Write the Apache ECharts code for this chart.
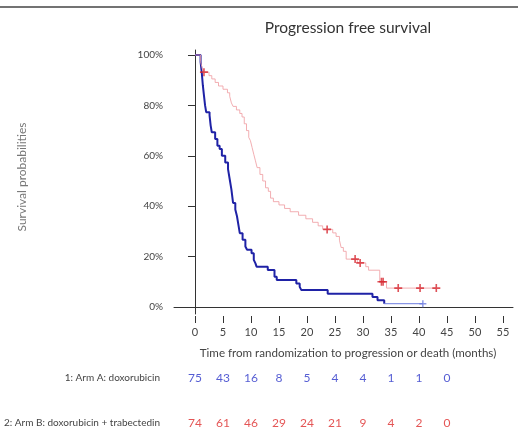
<!DOCTYPE html>
<html>
<head>
<meta charset="utf-8">
<script src="https://cdn.jsdelivr.net/npm/echarts@6/dist/echarts.min.js"></script>
<style>
  html, body { margin: 0; padding: 0; background: #ffffff; }
  #chart { width: 518px; height: 438px; }
</style>
</head>
<body>
<div id="chart"></div>
<script>
// Arm labels
const armAName = '1: Arm A: doxorubicin';
const armBName = '2: Arm B: doxorubicin + trabectedin';

// Arm A: Kaplan–Meier event times (months) and survival after each event
const armATimes = [0, 1.0, 1.2, 1.4, 1.6, 1.8, 2.0, 2.6, 2.8, 3.0, 3.6, 4.0, 4.4, 4.8, 5.4, 5.9, 6.2, 6.5, 6.8, 7.2, 7.5, 7.8, 8.0, 8.5, 9.0, 9.3, 10.1, 10.5, 10.8, 11.0, 13.0, 14.2, 14.6, 18.1, 18.7, 19.0, 23.7, 31.7, 32.6, 33.8];
const armASurv  = [1.0, 0.973, 0.933, 0.88, 0.84, 0.80, 0.773, 0.76, 0.72, 0.693, 0.667, 0.64, 0.627, 0.60, 0.573, 0.547, 0.507, 0.467, 0.413, 0.387, 0.36, 0.32, 0.293, 0.267, 0.24, 0.227, 0.213, 0.187, 0.173, 0.16, 0.147, 0.12, 0.107, 0.093, 0.08, 0.067, 0.053, 0.04, 0.027, 0.013];
const armACensorTimes = [40.7];
const armACensorSurv  = [0.013];

// Arm B: Kaplan–Meier event times (months) and survival after each event
const armBTimes = [0, 1.0, 1.3, 1.5, 2.5, 3.0, 3.6, 4.2, 5.0, 5.8, 6.2, 6.5, 6.8, 7.4, 8.0, 8.4, 8.8, 9.2, 9.6, 9.9, 10.2, 10.5, 10.8, 11.1, 11.6, 12.1, 12.6, 13.1, 13.5, 14.0, 15.0, 16.0, 17.0, 18.5, 19.8, 21.0, 22.0, 22.8, 24.6, 25.2, 25.8, 26.1, 26.5, 27.0, 29.0, 30.5, 31.0, 33.0, 34.2];
const armBSurv  = [1.0, 0.973, 0.946, 0.932, 0.918, 0.905, 0.891, 0.877, 0.864, 0.85, 0.836, 0.81, 0.796, 0.782, 0.768, 0.754, 0.727, 0.70, 0.673, 0.66, 0.633, 0.606, 0.58, 0.553, 0.526, 0.50, 0.473, 0.459, 0.432, 0.418, 0.405, 0.391, 0.378, 0.364, 0.35, 0.336, 0.322, 0.308, 0.294, 0.28, 0.265, 0.236, 0.221, 0.19, 0.175, 0.16, 0.146, 0.10, 0.075];
const armBCensorTimes = [1.6, 23.6, 28.6, 29.5, 33.3, 33.6, 36.3, 40.2, 43.1];
const armBCensorSurv  = [0.932, 0.308, 0.19, 0.175, 0.10, 0.10, 0.075, 0.075, 0.075];

// Numbers at risk
const riskTimes = [0, 5, 10, 15, 20, 25, 30, 35, 40, 45];
const riskA = [75, 43, 16, 8, 5, 4, 4, 1, 1, 0];
const riskB = [74, 61, 46, 29, 24, 21, 9, 4, 2, 0];

// Axis ticks
const xTicks = [0, 5, 10, 15, 20, 25, 30, 35, 40, 45, 50, 55];
const yTicks = [0, 0.2, 0.4, 0.6, 0.8, 1.0];

const FONT = 'Lato, "Open Sans", sans-serif';
const X_MIN = -3.75, X_MAX = 56.8;
const Y_MIN = -0.0278, Y_MAX = 1.0198;

function stepPoints(times, surv, endTime) {
  const pts = times.map((t, i) => [t, surv[i]]);
  if (endTime !== undefined) pts.push([endTime, surv[surv.length - 1]]);
  return pts;
}
const pairs = (a, b) => a.map((v, i) => [v, b[i]]);

const armALine = stepPoints(armATimes, armASurv);
const armATail = [[armATimes[armATimes.length - 1], armASurv[armASurv.length - 1]],
                  [armACensorTimes[armACensorTimes.length - 1], armASurv[armASurv.length - 1]]];
const armBLine = stepPoints(armBTimes, armBSurv, armBCensorTimes[armBCensorTimes.length - 1]);

const plusSymbol = 'path://M4,0H6V4H10V6H6V10H4V6H0V4H4Z';

const chart = echarts.init(document.getElementById('chart'), null, { renderer: 'canvas' });
chart.setOption({
  animation: false,
  backgroundColor: '#ffffff',
  title: {
    text: 'Progression free survival',
    left: 343, top: 15, textAlign: 'center',
    textStyle: { fontFamily: FONT, fontSize: 15.5, fontWeight: 'normal', color: '#333333' }
  },
  grid: [
    { left: 174, top: 50, width: 339, height: 264 },
    { left: 174, top: 378, width: 339, height: 45 }
  ],
  xAxis: [
    {
      gridIndex: 0, type: 'value', min: X_MIN, max: X_MAX, position: 'bottom',
      axisLine: { show: true, lineStyle: { color: '#333333', width: 1 } },
      axisTick: { show: false }, axisLabel: { show: false }, splitLine: { show: false }
    },
    {
      gridIndex: 0, type: 'value', min: X_MIN, max: X_MAX, position: 'bottom', offset: 2,
      axisLine: { show: false },
      axisTick: { show: true, customValues: xTicks, length: 7, lineStyle: { color: '#333333' } },
      axisLabel: { show: true, customValues: xTicks, margin: 11, fontFamily: FONT, fontSize: 11, color: '#444444' },
      splitLine: { show: false }
    },
    {
      gridIndex: 1, type: 'value', min: X_MIN, max: X_MAX, show: false
    }
  ],
  yAxis: [
    {
      gridIndex: 0, type: 'value', min: Y_MIN, max: Y_MAX,
      axisLine: { show: true, lineStyle: { color: '#333333', width: 1 } },
      axisTick: { show: true, customValues: yTicks, length: 7, lineStyle: { color: '#333333' } },
      axisLabel: {
        show: true, customValues: yTicks, margin: 11,
        formatter: v => Math.round(v * 100) + '%',
        fontFamily: FONT, fontSize: 10, color: '#444444'
      },
      splitLine: { show: false }
    },
    {
      gridIndex: 1, type: 'category', inverse: true, boundaryGap: false,
      data: [armAName, armBName],
      axisLine: { show: false }, axisTick: { show: false }, splitLine: { show: false },
      axisLabel: { margin: 14, fontFamily: FONT, fontSize: 10, color: '#444444' }
    }
  ],
  graphic: [
    { type: 'line', shape: { x1: 0, y1: 7, x2: 518, y2: 7 }, style: { stroke: '#444444', lineWidth: 1.5 } },
    {
      type: 'text', x: 348, y: 353,
      style: {
        text: 'Time from randomization to progression or death (months)',
        fontFamily: FONT, fontSize: 11.6, fill: '#444444', align: 'center', verticalAlign: 'middle'
      }
    },
    {
      type: 'text', x: 22, y: 177, rotation: Math.PI / 2,
      style: {
        text: 'Survival probabilities',
        fontFamily: FONT, fontSize: 12, fill: '#777777', align: 'center', verticalAlign: 'middle'
      }
    }
  ],
  series: [
    {
      name: 'Arm A', type: 'line', xAxisIndex: 0, yAxisIndex: 0, step: 'end',
      data: armALine, showSymbol: false, symbol: 'none',
      lineStyle: { color: '#1f22a6', width: 2 }, z: 3
    },
    {
      name: 'Arm A follow-up', type: 'line', xAxisIndex: 0, yAxisIndex: 0,
      data: armATail, symbol: 'none',
      lineStyle: { color: '#6b7be0', width: 1 }, z: 3
    },
    {
      name: 'Arm B', type: 'line', xAxisIndex: 0, yAxisIndex: 0, step: 'end',
      data: armBLine, symbol: 'none',
      lineStyle: { color: '#f0a0a4', width: 1, opacity: 0.85 }, z: 4
    },
    {
      name: 'Arm B censored', type: 'scatter', xAxisIndex: 0, yAxisIndex: 0,
      data: pairs(armBCensorTimes, armBCensorSurv),
      symbol: plusSymbol, symbolSize: 8,
      itemStyle: { color: '#d6262e' }, z: 5
    },
    {
      name: 'Arm A censored', type: 'scatter', xAxisIndex: 0, yAxisIndex: 0,
      data: pairs(armACensorTimes, armACensorSurv),
      symbol: plusSymbol, symbolSize: 7,
      itemStyle: { color: '#6b7be0' }, z: 5
    },
    {
      name: 'At risk A', type: 'scatter', xAxisIndex: 2, yAxisIndex: 1,
      data: riskTimes.map((t, i) => [t, 0, riskA[i]]),
      symbolSize: 0,
      label: { show: true, position: 'inside', formatter: p => p.value[2], fontFamily: FONT, fontSize: 12, color: '#2b35c8' }
    },
    {
      name: 'At risk B', type: 'scatter', xAxisIndex: 2, yAxisIndex: 1,
      data: riskTimes.map((t, i) => [t, 1, riskB[i]]),
      symbolSize: 0,
      label: { show: true, position: 'inside', formatter: p => p.value[2], fontFamily: FONT, fontSize: 12, color: '#dd2a2a' }
    }
  ]
});
</script>
</body>
</html>
